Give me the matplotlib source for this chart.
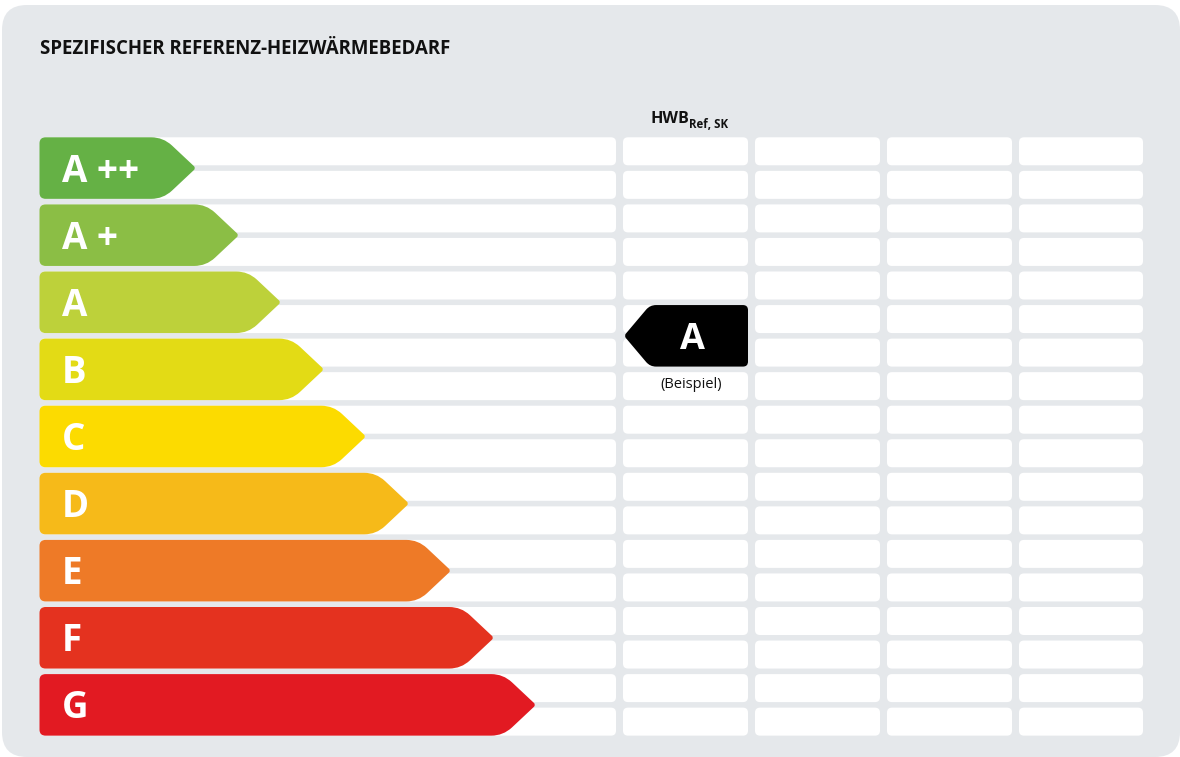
import matplotlib
matplotlib.use("Agg")
import matplotlib.pyplot as plt
from matplotlib.patches import FancyBboxPatch, PathPatch
from matplotlib.path import Path
import numpy as np

plt.rcParams['font.family'] = ['Open Sans', 'DejaVu Sans']

# energy classes, best to worst
classes = ["A ++", "A +", "A", "B", "C", "D", "E", "F", "G"]
class_colors = ["#65B145", "#8BBE45", "#BDD13A", "#E3DB15", "#FCDB00",
                "#F6BA19", "#EE7A27", "#E4321F", "#E21A22"]
# right tip of each class arrow (px)
arrow_tip = [196, 239, 281, 324, 366, 409, 451, 494, 536]

title = "SPEZIFISCHER REFERENZ-HEIZWÄRMEBEDARF"
col_head = "HWB"
col_head_sub = "Ref, SK"
example_class = "A"
example_note = "(Beispiel)"
example_row = 5          # marker sits on rows 5/6 of the grid

# grid of white cells
col_edges = [(40, 616), (623, 748), (755, 880), (887, 1012), (1019, 1143)]
n_rows = 2 * len(classes)
row_top0 = 137.3
row_pitch = 33.55
row_h = 28.0


def rounded_poly(pts, radii):
    pts = np.asarray(pts, float)
    n = len(pts)
    verts, codes = [], []
    for i in range(n):
        p = pts[i]
        pp = pts[i - 1]
        pn = pts[(i + 1) % n]
        r = radii[i]
        d1 = (pp - p) / np.hypot(*(pp - p))
        d2 = (pn - p) / np.hypot(*(pn - p))
        a = p + d1 * r
        b = p + d2 * r
        if i == 0:
            verts.append(a); codes.append(Path.MOVETO)
        else:
            verts.append(a); codes.append(Path.LINETO)
        verts += [p, b]; codes += [Path.CURVE3, Path.CURVE3]
    verts.append(verts[0]); codes.append(Path.CLOSEPOLY)
    return Path(verts, codes)


fig = plt.figure(figsize=(11.8, 7.57), dpi=100)
ax = fig.add_axes([0, 0, 1, 1])
ax.set_xlim(0, 1180)
ax.set_ylim(757, 0)
ax.axis('off')

# panel
ax.add_patch(FancyBboxPatch((2, 5), 1178, 752, boxstyle="round,pad=0,rounding_size=25",
                            fc="#E5E8EB", ec="none"))

ax.text(40, 54.5, title, fontsize=13.4, fontweight='bold', color="#111111", va='baseline')

# column header with subscript
ax.text(650, 123, col_head, fontsize=11.6, fontweight='bold', color="#111111", va='baseline')
ax.text(689, 127.5, col_head_sub, fontsize=8.3, fontweight='bold', color="#111111", va='baseline')

for k in range(n_rows):
    y = row_top0 + k * row_pitch
    for x0, x1 in col_edges:
        ax.add_patch(FancyBboxPatch((x0, y), x1 - x0, row_h,
                                    boxstyle="round,pad=0,rounding_size=5",
                                    fc="white", ec="none"))

# class arrows
for i, (lab, c, tip) in enumerate(zip(classes, class_colors, arrow_tip)):
    top = row_top0 + 2 * i * row_pitch
    bot = top + row_pitch + row_h
    mid = (top + bot) / 2
    h2 = (bot - top) / 2
    body = tip - h2 - 2
    pts = [(39.5, top), (body, top), (tip, mid), (body, bot), (39.5, bot)]
    ax.add_patch(PathPatch(rounded_poly(pts, [6, 12, 3, 12, 6]), fc=c, ec="none"))
    ax.text(62, mid + 13.5, lab, fontsize=26.5, fontweight='bold', color="white", va='baseline')

# example marker
top = row_top0 + example_row * row_pitch
bot = top + row_pitch + row_h
mid = (top + bot) / 2
x0, x1 = col_edges[1]
pts = [(x0 + 1, mid), (x0 + 27, top), (x1, top), (x1, bot), (x0 + 27, bot)]
ax.add_patch(PathPatch(rounded_poly(pts, [3, 6, 5, 5, 6]), fc="black", ec="none"))
ax.text(692, mid + 13, example_class, fontsize=26, fontweight='bold', color="white",
        ha='center', va='baseline')
ax.text(691, 388, example_note, fontsize=10.5, color="#111111", ha='center', va='baseline')

fig.savefig("out.png", dpi=100, facecolor="white")
